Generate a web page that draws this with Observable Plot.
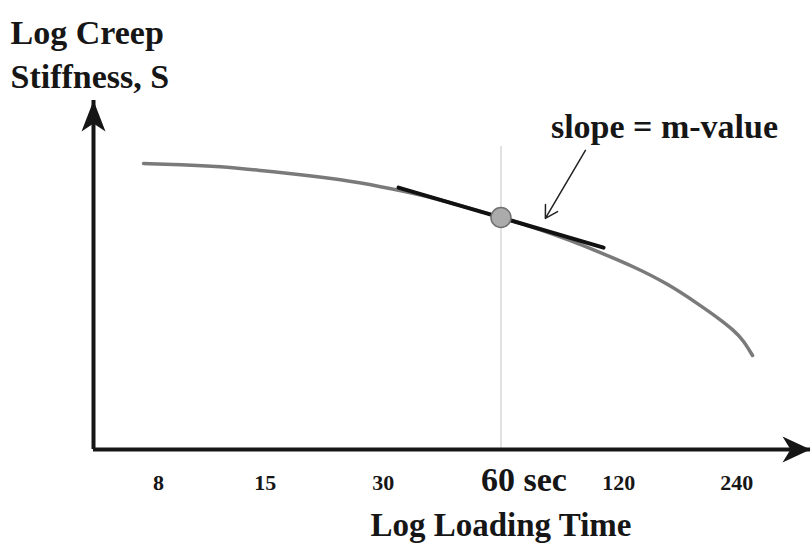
<!DOCTYPE html>
<html>
<head>
<meta charset="utf-8">
<script src="https://cdn.jsdelivr.net/npm/d3@7"></script>
<script src="https://cdn.jsdelivr.net/npm/@observablehq/plot@0.6"></script>
<style>
  html, body { margin: 0; padding: 0; background: #ffffff; }
</style>
</head>
<body>
<div id="chart"></div>
<script>
// ---- data ----
const curveTime = [7.33, 9.11, 11.52, 14.58, 18.45, 23.34, 29.54, 37.38, 47.29, 60, 75.7, 90.3, 107.7, 130.8, 159.8, 194.0, 214.4, 235.6, 249.9, 263.5];
const curveStiffness = [81.95, 81.66, 81.09, 79.94, 78.80, 77.36, 75.36, 73.07, 69.91, 66.6, 63.04, 59.89, 56.45, 52.44, 47.56, 41.26, 37.82, 34.24, 31.23, 26.93];
const tangentTime = [32.84, 109.7];
const tangentStiffness = [75.04, 57.85];
const pointTime = [60];
const pointStiffness = [66.48];
const guideTop = [86.8];
const tickValues = [8, 15, 30, 120, 240];
const tickHighlight = [60];
const tickHighlightLabel = ["60 sec"];
const xExtent = [5.46, 370.6];
const yExtent = [0, 100];
const yTitle = ["Log Creep\nStiffness, S"];
const xTitle = ["Log Loading Time"];
const noteText = ["slope = m-value"];
const notePos = [157, 92.5];
const noteArrow = {x1: 98.6, y1: 85.7, x2: 77.9, y2: 66.2};

// ---- build tables ----
const curve = curveTime.map((t, i) => ({t, s: curveStiffness[i]}));
const tangent = tangentTime.map((t, i) => ({t, s: tangentStiffness[i]}));
const point = pointTime.map((t, i) => ({t, s: pointStiffness[i]}));

const arrowRight = {draw(ctx) { ctx.moveTo(0, 0); ctx.lineTo(-28, -13); ctx.lineTo(-20, 0); ctx.lineTo(-28, 13); ctx.closePath(); }};
const arrowUp = {draw(ctx) { ctx.moveTo(0, 0); ctx.lineTo(-12, 31); ctx.lineTo(0, 23); ctx.lineTo(12, 31); ctx.closePath(); }};

const font = "Liberation Serif, Times New Roman, serif";
const ink = "#161616";

const chart = Plot.plot({
  width: 811,
  height: 545,
  marginLeft: 93,
  marginRight: 1,
  marginTop: 100,
  marginBottom: 96,
  style: {fontFamily: font, background: "#ffffff", color: ink},
  x: {type: "log", domain: xExtent, axis: null},
  y: {domain: yExtent, axis: null},
  marks: [
    Plot.ruleX([60], {y1: 0, y2: guideTop[0], stroke: "#c4c4c4", strokeWidth: 1}),
    Plot.ruleY([yExtent[0]], {stroke: ink, strokeWidth: 4}),
    Plot.ruleX([xExtent[0]], {stroke: ink, strokeWidth: 4}),
    Plot.dot([[xExtent[1], yExtent[0]]], {x: d => d[0], y: d => d[1], symbol: arrowRight, fill: ink, stroke: "none"}),
    Plot.dot([[xExtent[0], yExtent[1]]], {x: d => d[0], y: d => d[1], symbol: arrowUp, fill: ink, stroke: "none"}),
    Plot.line(curve, {x: "t", y: "s", curve: "basis", stroke: "#7a7a7a", strokeWidth: 3.5}),
    Plot.line(tangent, {x: "t", y: "s", stroke: "#111", strokeWidth: 4}),
    Plot.dot(point, {x: "t", y: "s", r: 10, fill: "#ababab", stroke: "#707070", strokeWidth: 1.5}),
    Plot.arrow([noteArrow], {x1: "x1", y1: "y1", x2: "x2", y2: "y2", stroke: "#222", strokeWidth: 1.5, headLength: 14, bend: false}),
    Plot.text(noteText, {x: () => notePos[0], y: () => notePos[1], text: d => d, fontSize: 34, fontWeight: "bold", fill: ink}),
    Plot.text(tickValues, {x: d => d, text: d => String(d), frameAnchor: "bottom", lineAnchor: "bottom", dy: 40, fontSize: 22, fontWeight: "bold", fill: ink}),
    Plot.text(tickHighlightLabel, {x: () => tickHighlight[0], text: d => d, frameAnchor: "bottom", textAnchor: "start", lineAnchor: "bottom", dx: -20, dy: 41, fontSize: 34, fontWeight: "bold", fill: ink}),
    Plot.text(xTitle, {x: () => tickHighlight[0], text: d => d, frameAnchor: "bottom", lineAnchor: "bottom", dy: 86, fontSize: 33, fontWeight: "bold", fill: ink}),
    Plot.text(yTitle, {frameAnchor: "top-left", text: d => d, textAnchor: "start", lineAnchor: "top", dx: -83, dy: -88, fontSize: 34, fontWeight: "bold", lineHeight: 1.3, fill: ink})
  ]
});
document.getElementById("chart").appendChild(chart);
</script>
</body>
</html>
